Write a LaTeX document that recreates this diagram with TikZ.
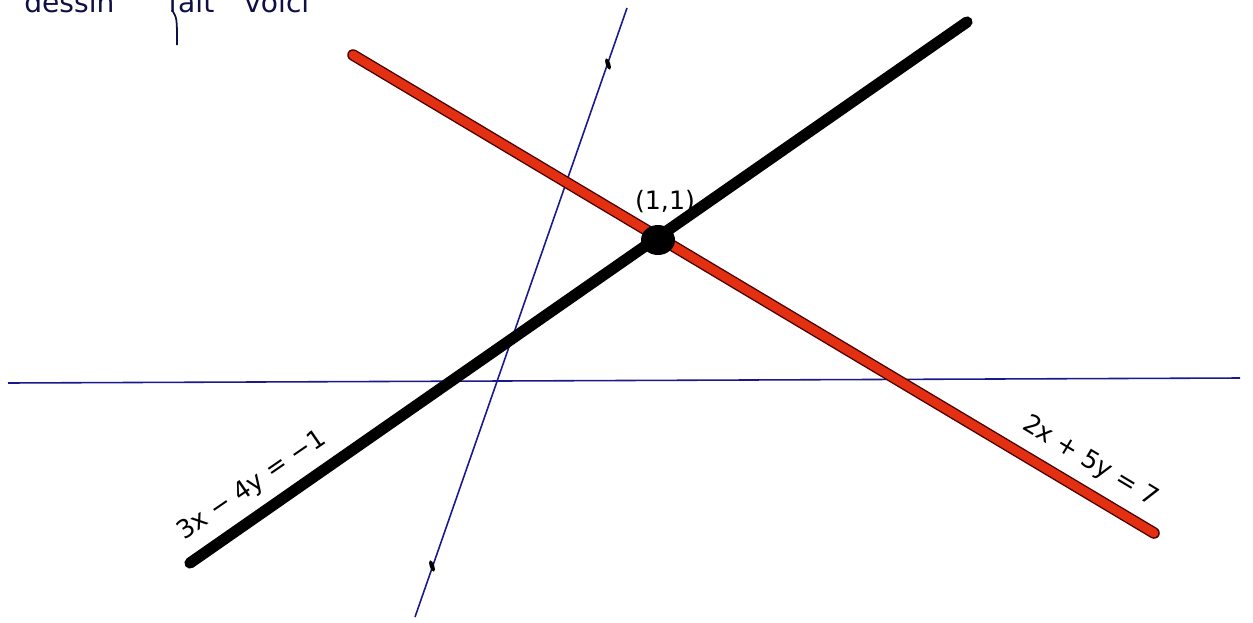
\documentclass[tikz,border=0pt]{standalone}
\usepackage{fontspec}
\setmainfont{DejaVu Sans}
\begin{document}
\begin{tikzpicture}[x=0.02cm,y=-0.02cm,
  axisline/.style={draw=axisblue,line width=0.9pt},
  blackline/.style={draw=black,line width=6.4pt,line cap=round},
  redline/.style={draw=lred,line width=5pt,line cap=round},
  lbl/.style={font=\Large,inner sep=1pt},
  titleword/.style={font=\fontsize{16}{16}\selectfont,anchor=base west,inner sep=0pt,text=inkblue},
  tickmark/.style={fill=black,draw=none}]
\definecolor{axisblue}{RGB}{25,25,140}
\definecolor{lred}{RGB}{228,48,18}
\definecolor{inkblue}{RGB}{15,15,70}
\useasboundingbox (0,0) rectangle (1253,622);
\begin{scope}
\clip (0,0) rectangle (1253,622);
\node[titleword] (w1) at (24,12) {dessin};
\node[titleword] (w2) at (168,12) {fait};
\node[titleword] (w3) at (244,12) {voici};
\end{scope}
\coordinate (ftail0) at (172,10);
\coordinate (ftail1) at (177,45);
\draw[inkblue,line width=1pt] (ftail0) .. controls (177,18) .. (ftail1);
% axes
\coordinate (xl) at (8,383);
\coordinate (xr) at (1240,378);
\draw[axisline] (xl) -- (xr);
\coordinate (yb) at (415,617);
\coordinate (yt) at (627,8);
\draw[axisline] (yb) -- (yt);
\fill[tickmark,rotate around={-71:(608,64)}] (608,64) ellipse (6 and 2.2);
\fill[tickmark,rotate around={-71:(432,566)}] (432,566) ellipse (6 and 2.2);
% lines
\coordinate (b1) at (190,563);
\coordinate (b2) at (967,22);
\draw[blackline] (b1) -- (b2);
\coordinate (r1) at (353,55);
\coordinate (r2) at (1154,533);
\draw[draw=black!70!red,line width=6.6pt,line cap=round] (r1) -- (r2);
\draw[redline] (r1) -- (r2);
% intersection point
\fill (658,240) ellipse (17 and 15);
\node[lbl] (pt) at (665,202) {(1,1)};
\node[lbl,rotate=34.5] (eq1) at (252,486) {3x − 4y = −1};
\node[lbl,rotate=-31] (eq2) at (1090,462) {2x + 5y = 7};
\end{tikzpicture}
\end{document}
